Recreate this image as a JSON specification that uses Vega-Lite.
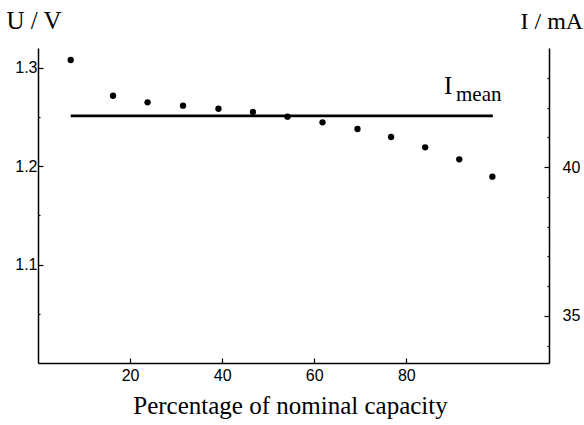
{
  "$schema": "https://vega.github.io/schema/vega-lite/v6.json",
  "width": 511,
  "height": 315,
  "autosize": {"type": "none"},
  "padding": {"left": 38, "top": 48, "right": 35, "bottom": 62},
  "background": "white",
  "config": {
    "view": {"stroke": null},
    "axis": {
      "domainColor": "black",
      "domainWidth": 1.5,
      "tickColor": "black",
      "tickWidth": 1.2,
      "labelColor": "black",
      "labelFont": "Liberation Sans",
      "labelFontSize": 16,
      "labelOverlap": false,
      "grid": false,
      "titleFont": "Liberation Serif",
      "titleFontSize": 25,
      "titleFontWeight": "normal",
      "titleColor": "black"
    }
  },
  "datasets": {
    "pts": [
      {"pct": 7.1, "U": 1.3078},
      {"pct": 16.3, "U": 1.2715},
      {"pct": 23.8, "U": 1.2648},
      {"pct": 31.5, "U": 1.2614},
      {"pct": 39.2, "U": 1.2583},
      {"pct": 46.7, "U": 1.255},
      {"pct": 54.2, "U": 1.2502},
      {"pct": 61.8, "U": 1.2445},
      {"pct": 69.4, "U": 1.2377},
      {"pct": 76.7, "U": 1.2296},
      {"pct": 84.1, "U": 1.2191},
      {"pct": 91.5, "U": 1.2069},
      {"pct": 98.7, "U": 1.1893}
    ],
    "imean": [
      {"pct": 7.1, "I": 41.72},
      {"pct": 98.8, "I": 41.72}
    ],
    "labels": [
      {"pct": 88.2, "I": 42.455, "t": "I"},
      {"pct": 90.8, "I": 42.22, "t": "mean"}
    ]
  },
  "layer": [
    {
      "data": {"name": "pts"},
      "mark": {"type": "point", "filled": true, "shape": "circle", "color": "black", "size": 40, "opacity": 1},
      "encoding": {
        "x": {
          "field": "pct", "type": "quantitative",
          "scale": {"domain": [0, 111], "nice": false, "zero": false},
          "axis": {
            "values": [20, 40, 60, 80],
            "tickSize": -5,
            "labelPadding": 9,
            "title": "Percentage of nominal capacity",
            "titleX": 252, "titleY": 50, "titleAlign": "center", "titleBaseline": "alphabetic"
          }
        },
        "y": {
          "field": "U", "type": "quantitative",
          "scale": {"domain": [1.0, 1.32], "nice": false, "zero": false},
          "axis": {
            "values": [1.05, 1.1, 1.15, 1.2, 1.25, 1.3],
            "labelExpr": "abs(datum.value*10 - round(datum.value*10)) < 0.001 ? format(datum.value, '.1f') : ''",
            "tickSize": {"condition": {"test": "abs(datum.value*10 - round(datum.value*10)) < 0.001", "value": -5}, "value": -2},
            "labelPadding": 6,
            "title": "U / V",
            "titleAngle": 0, "titleX": -32, "titleY": -20, "titleAlign": "left", "titleBaseline": "alphabetic"
          }
        }
      }
    },
    {
      "encoding": {
        "x": {"field": "pct", "type": "quantitative", "scale": {"domain": [0, 111], "nice": false, "zero": false}},
        "y": {
          "field": "I", "type": "quantitative",
          "scale": {"domain": [33.42, 44], "nice": false, "zero": false},
          "axis": {
            "orient": "right",
            "values": [34, 35, 36, 37, 38, 39, 40, 41, 42, 43],
            "labelExpr": "datum.value % 5 == 0 ? format(datum.value, 'd') : ''",
            "tickSize": {"condition": {"test": "datum.value % 5 == 0", "value": -5}, "value": -2},
            "labelPadding": 18,
            "title": "I / mA",
            "titleFontSize": 24,
            "titleAngle": 0, "titleX": -29, "titleY": -20, "titleAlign": "left", "titleBaseline": "alphabetic"
          }
        }
      },
      "layer": [
        {
          "data": {"name": "imean"},
          "mark": {"type": "line", "color": "black", "strokeWidth": 2.6}
        },
        {
          "data": {"name": "labels"},
          "transform": [{"filter": "datum.t == 'I'"}],
          "mark": {"type": "text", "font": "Liberation Serif", "fontSize": 25, "align": "left", "baseline": "alphabetic", "color": "black"},
          "encoding": {"text": {"field": "t"}}
        },
        {
          "data": {"name": "labels"},
          "transform": [{"filter": "datum.t == 'mean'"}],
          "mark": {"type": "text", "font": "Liberation Serif", "fontSize": 21, "align": "left", "baseline": "alphabetic", "color": "black"},
          "encoding": {"text": {"field": "t"}}
        }
      ]
    }
  ],
  "resolve": {"scale": {"y": "independent"}, "axis": {"y": "independent"}}
}
